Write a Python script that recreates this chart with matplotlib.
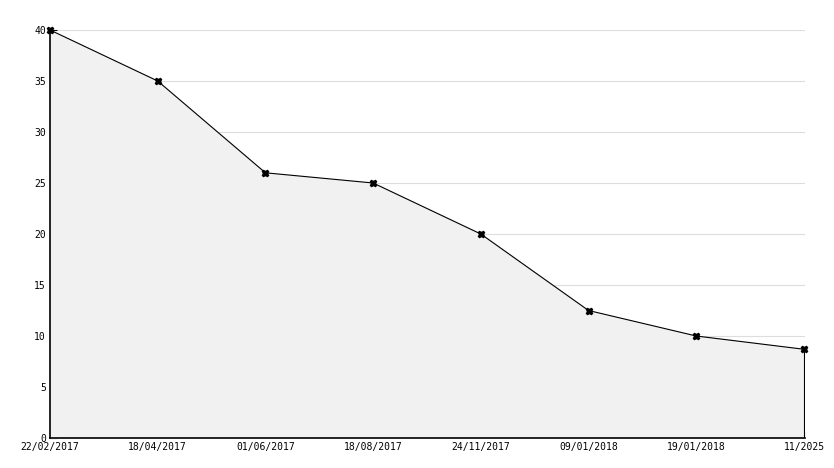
import matplotlib
matplotlib.use("Agg")
import matplotlib.pyplot as plt
from matplotlib.ticker import MultipleLocator

labels = ["22/02/2017", "18/04/2017", "01/06/2017", "18/08/2017", "24/11/2017", "09/01/2018", "19/01/2018", "11/2025"]
values = [40, 35, 26, 25, 20, 12.5, 10, 8.7]

fig = plt.figure(figsize=(8.34, 4.68), dpi=100)
ax = fig.add_axes([50/834, 30/468, 755/834, 408/468])
x = list(range(len(labels)))
ax.fill_between(x, values, 0, color="#f1f1f1", zorder=1)
ax.plot(x, values, color="black", lw=0.8, marker="X", ms=4.5, zorder=3, clip_on=False)
ax.vlines(x[-1], 0, values[-1], color="black", lw=0.8, zorder=2)
ax.set_xlim(0, len(labels) - 1 + 0.01)
ax.set_ylim(0, 40)
ax.set_xticks(x)
ax.set_xticklabels(labels, family="DejaVu Sans Mono", fontsize=7)
ax.yaxis.set_major_locator(MultipleLocator(5))
ax.yaxis.set_minor_locator(MultipleLocator(1))
for t in ax.get_yticklabels():
    t.set_family("DejaVu Sans Mono"); t.set_fontsize(7)
ax.tick_params(direction="in", length=5, width=0.8, pad=3, colors="black")
ax.tick_params(which="minor", direction="in", length=3, width=0.8)
ax.grid(axis="y", color="#dddddd", lw=0.8, zorder=0)
ax.set_axisbelow(True)
for s in ["top", "right"]:
    ax.spines[s].set_visible(False)
for s in ["left", "bottom"]:
    ax.spines[s].set_linewidth(1.2)
fig.savefig("out.png", dpi=100)
